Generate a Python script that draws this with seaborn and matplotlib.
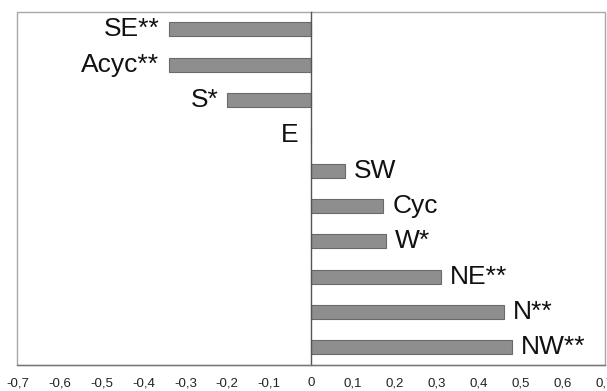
import numpy as np
import pandas as pd
import matplotlib
matplotlib.use("Agg")
import matplotlib.pyplot as plt
import matplotlib.patches as mpatches
import seaborn as sns

categories = ["SE**", "Acyc**", "S*", "E", "SW", "Cyc", "W*", "NE**", "N**", "NW**"]
values = [-0.34, -0.34, -0.20, 0.0, 0.08, 0.172, 0.179, 0.309, 0.46, 0.479]
xticks = [-0.7, -0.6, -0.5, -0.4, -0.3, -0.2, -0.1, 0, 0.1, 0.2, 0.3, 0.4, 0.5, 0.6, 0.7]
xtick_labels = ["-0,7", "-0,6", "-0,5", "-0,4", "-0,3", "-0,2", "-0,1", "0",
                "0,1", "0,2", "0,3", "0,4", "0,5", "0,6", "0,7"]

sns.set_style("white")
plt.rcParams['font.family'] = ['Liberation Sans', 'DejaVu Sans']

df = pd.DataFrame({"cat": categories, "val": values})

fig = plt.figure(figsize=(6.07, 3.91), dpi=100)
ax = fig.add_axes([0.0288, 0.0665, 0.9679, 0.9035])

sns.barplot(data=df, x="val", y="cat", orient="h", color="#8e8e8e",
            edgecolor="#6a6a6a", linewidth=0.8, width=0.40, ax=ax, saturation=1)

ax.set_xlim(-0.7, 0.7)
ax.set_ylim(9.5, -0.5)
ax.set_xlabel("")
ax.set_ylabel("")
ax.set_xticks(xticks)
ax.set_xticklabels(xtick_labels, fontsize=9.5, color="#222222")
ax.set_yticks(np.arange(-0.5, 10, 1.0))
ax.set_yticklabels([])

for s in ["top", "right"]:
    ax.spines[s].set_visible(False)
ax.spines["left"].set_position(("data", 0))
ax.spines["left"].set_color("#555555")
ax.spines["left"].set_linewidth(1.0)
ax.spines["bottom"].set_color("#777777")
ax.spines["bottom"].set_linewidth(1.0)

ax.tick_params(axis="x", direction="out", length=3, width=0.8, color="#777777", pad=6)
ax.tick_params(axis="y", direction="out", length=2, width=0.8, color="#777777")

frame = mpatches.Rectangle((0, 0), 1, 1, transform=ax.transAxes, fill=False,
                           edgecolor="#a8a8a8", linewidth=1.0, clip_on=False, zorder=0)
ax.add_patch(frame)

for i, (lab, v) in enumerate(zip(categories, values)):
    if v > 0:
        ax.annotate(lab, xy=(v, i), xytext=(6.5, 0), textcoords="offset points",
                    ha="left", va="center", fontsize=19, color="#111111")
    else:
        off = -6.5 if v < 0 else -9
        ax.annotate(lab, xy=(v, i), xytext=(off, 0), textcoords="offset points",
                    ha="right", va="center", fontsize=19, color="#111111")

fig.savefig("out.png", dpi=100)
